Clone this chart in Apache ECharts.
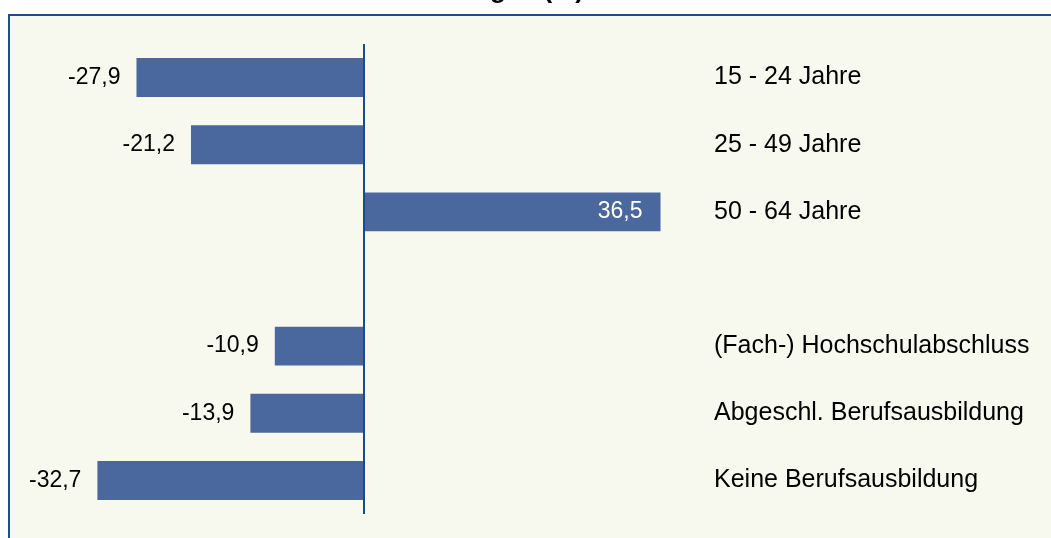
<!DOCTYPE html>
<html>
<head>
<meta charset="utf-8">
<script src="https://cdn.jsdelivr.net/npm/echarts@6/dist/echarts.min.js"></script>
<style>
  html, body { margin: 0; padding: 0; background: #fff; }
  #chart { width: 1051px; height: 538px; }
</style>
</head>
<body>
<div id="chart"></div>
<script>
const categories = [
  '15 - 24 Jahre',
  '25 - 49 Jahre',
  '50 - 64 Jahre',
  '',
  '(Fach-) Hochschulabschluss',
  'Abgeschl. Berufsausbildung',
  'Keine Berufsausbildung'
]
const values = [-27.9, -21.2, 36.5, null, -10.9, -13.9, -32.7]

const barColor = '#4A689D'
const lineColor = '#1F4E8C'
const font = '"Liberation Sans", Arial, sans-serif'

function formatValue(v) {
  return v.toFixed(1).replace('.', ',')
}

const chart = echarts.init(document.getElementById('chart'))

const seriesData = values.map((v) => {
  if (v == null) return '-'
  if (v >= 0) {
    return { value: v, label: { position: 'insideRight', color: '#fff', distance: 18 } }
  }
  return v
})

chart.setOption({
  backgroundColor: '#fff',
  animation: false,
  title: {
    text: 'Veränderung in (%)',
    left: 342,
    top: -27,
    textStyle: { fontFamily: font, fontSize: 26, fontWeight: 'bold', color: '#000' }
  },
  graphic: [
    {
      type: 'rect',
      z: -10,
      shape: { x: 9, y: 15, width: 1100, height: 600 },
      style: { fill: '#F8F9EE', stroke: lineColor, lineWidth: 2 }
    }
  ],
  grid: { left: 38, right: 362, top: 44, bottom: 24 },
  xAxis: {
    type: 'value',
    min: -40,
    max: 40,
    show: false
  },
  yAxis: {
    type: 'category',
    data: categories,
    inverse: true,
    position: 'right',
    axisLine: { show: false },
    axisTick: { show: false },
    splitLine: { show: false },
    axisLabel: {
      align: 'left',
      margin: 25,
      color: '#000',
      fontFamily: font,
      fontSize: 25
    }
  },
  series: [
    {
      type: 'bar',
      data: seriesData,
      barCategoryGap: '42%',
      itemStyle: { color: barColor },
      label: {
        show: true,
        position: 'left',
        distance: 16,
        color: '#000',
        fontFamily: font,
        fontSize: 23,
        formatter: (p) => formatValue(p.value)
      },
      markLine: {
        silent: true,
        symbol: 'none',
        label: { show: false },
        lineStyle: { color: '#1A4A8A', width: 2, type: 'solid' },
        data: [{ xAxis: 0 }]
      }
    }
  ]
})
</script>
</body>
</html>
